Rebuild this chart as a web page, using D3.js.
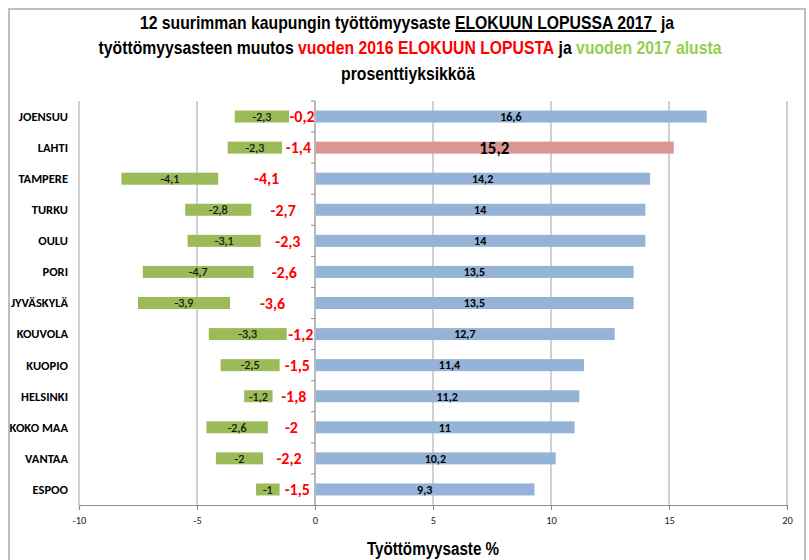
<!DOCTYPE html>
<html>
<head>
<meta charset="utf-8">
<script src="https://cdn.jsdelivr.net/npm/d3@7"></script>
<style>
  body { margin: 0; background: #fff; }
  text { font-family: "Carlito", "Liberation Sans", sans-serif; }
  .narrow { font-family: "Liberation Sans", Arial, sans-serif; }
</style>
</head>
<body>
<svg id="chart" width="809" height="560"></svg>
<script>
// kaupungit ylhäältä alas
const kaupungit = ["JOENSUU", "LAHTI", "TAMPERE", "TURKU", "OULU", "PORI", "JYVÄSKYLÄ",
    "KOUVOLA", "KUOPIO", "HELSINKI", "KOKO MAA", "VANTAA", "ESPOO"];
// työttömyysaste elokuun lopussa 2017
const tyottomyysaste = [16.6, 15.2, 14.2, 14, 14, 13.5, 13.5, 12.7, 11.4, 11.2, 11, 10.2, 9.3];
// muutos vuoden 2016 elokuun lopusta (punainen teksti)
const muutos2016 = [-0.2, -1.4, -4.1, -2.7, -2.3, -2.6, -3.6, -1.2, -1.5, -1.8, -2, -2.2, -1.5];
// näkymätön välipalkki, jonka jälkeen vihreä palkki alkaa
const valipalkki = [-1.1, -1.4, -4.1, -2.7, -2.3, -2.6, -3.6, -1.2, -1.5, -1.8, -2.0, -2.2, -1.5];
// muutos vuoden 2017 alusta (vihreä palkki)
const muutos2017 = [-2.3, -2.3, -4.1, -2.8, -3.1, -4.7, -3.9, -3.3, -2.5, -1.2, -2.6, -2, -1];
const xTicks = [-10, -5, 0, 5, 10, 15, 20];

const fmt = v => String(v).replace(".", ",");

const svg = d3.select("#chart");

// ulkokehys
svg.append("rect")
    .attr("x", 9).attr("y", 9)
    .attr("width", 796).attr("height", 560)
    .attr("fill", "none")
    .attr("stroke", "#bfbfbf")
    .attr("stroke-width", 2);

//----------------------------------------------------------------------------------
// otsikko (kapea fontti = Liberation Sans vaakasuunnassa puristettuna)

function narrowText(cx, cy, size, sx) {
    return svg.append("text")
        .attr("class", "narrow")
        .attr("transform", `translate(${cx},${cy}) scale(${sx},1)`)
        .attr("text-anchor", "middle")
        .attr("font-weight", "bold")
        .attr("font-size", size)
        .style("white-space", "pre");
}

let t1 = narrowText(407, 29, 19, 0.83);
t1.append("tspan").text("12 suurimman kaupungin työttömyysaste ");
t1.append("tspan").style("text-decoration", "underline").text("ELOKUUN LOPUSSA 2017 ");
t1.append("tspan").text(" ja");

let t2 = narrowText(410, 54, 19, 0.83);
t2.append("tspan").text("työttömyysasteen muutos ");
t2.append("tspan").attr("fill", "#ff0000").text("vuoden 2016 ELOKUUN LOPUSTA");
t2.append("tspan").text(" ja ");
t2.append("tspan").attr("fill", "#92d050").text("vuoden 2017 alusta");

narrowText(408, 80, 19, 0.83).text("prosenttiyksikköä");

//----------------------------------------------------------------------------------
// asteikot

const plotTop = 101, plotBottom = 505;
const x = d3.scaleLinear().domain([-10, 20]).range([79, 787]);
const y = d3.scaleBand().domain(kaupungit).range([plotTop, plotBottom]);
const barH = 12;

// pystyruudukko
svg.append("g")
    .selectAll("line")
    .data(xTicks.filter(d => d !== 0))
    .join("line")
    .attr("x1", d => x(d)).attr("x2", d => x(d))
    .attr("y1", plotTop).attr("y2", plotBottom)
    .attr("stroke", "#b3b3b3")
    .attr("stroke-width", 1.2);

// x-akseli
const xAxis = svg.append("g")
    .attr("transform", `translate(0,${plotBottom})`)
    .call(d3.axisBottom(x).tickValues(xTicks).tickSize(5).tickPadding(7).tickFormat(d => d));
xAxis.select(".domain").attr("stroke", "#8c8c8c").attr("stroke-width", 1.2);
xAxis.selectAll(".tick line").attr("stroke", "#8c8c8c");
xAxis.selectAll(".tick text")
    .attr("font-size", 10.5)
    .attr("fill", "#222")
    .style("font-family", "Carlito, sans-serif");

narrowText(x(5), 555, 19, 0.8).text("Työttömyysaste %");

// y-akseli nollassa, väliviivat kategorioiden välissä
const yAxisG = svg.append("g");
yAxisG.append("line")
    .attr("x1", x(0)).attr("x2", x(0))
    .attr("y1", plotTop).attr("y2", plotBottom)
    .attr("stroke", "#8c8c8c").attr("stroke-width", 1.2);
yAxisG.selectAll(".ytick")
    .data(kaupungit)
    .join("line")
    .attr("class", "ytick")
    .attr("x1", x(0) - 4).attr("x2", x(0))
    .attr("y1", d => y(d)).attr("y2", d => y(d))
    .attr("stroke", "#8c8c8c");

// kaupunkien nimet
svg.append("g")
    .selectAll("text")
    .data(kaupungit)
    .join("text")
    .attr("x", 68)
    .attr("y", d => y(d) + y.bandwidth() / 2)
    .attr("dy", "0.35em")
    .attr("text-anchor", "end")
    .attr("font-weight", "bold")
    .attr("font-size", 12.5)
    .text(d => d);

//----------------------------------------------------------------------------------
// palkit

const rows = kaupungit.map((k, i) => ({
    kaupunki: k,
    aste: tyottomyysaste[i],
    m2016: muutos2016[i],
    vali: valipalkki[i],
    m2017: muutos2017[i]
}));

const cy = d => y(d.kaupunki) + y.bandwidth() / 2;

// työttömyysaste
svg.append("g")
    .selectAll("rect")
    .data(rows)
    .join("rect")
    .attr("x", x(0) + 1)
    .attr("y", d => cy(d) - barH / 2)
    .attr("width", d => x(d.aste) - x(0) - 1)
    .attr("height", barH)
    .attr("fill", d => d.kaupunki === "LAHTI" ? "#d99694" : "#95b3d7");

svg.append("g")
    .selectAll("text")
    .data(rows)
    .join("text")
    .attr("x", d => x(d.aste / 2))
    .attr("y", cy)
    .attr("dy", "0.36em")
    .attr("text-anchor", "middle")
    .attr("font-weight", "bold")
    .attr("font-size", d => d.kaupunki === "LAHTI" ? 17 : 12)
    .text(d => fmt(d.aste));

// muutos vuoden 2017 alusta, pinottuna välipalkin jatkoksi
svg.append("g")
    .selectAll("rect")
    .data(rows)
    .join("rect")
    .attr("x", d => x(d.vali + d.m2017))
    .attr("y", d => cy(d) - barH / 2)
    .attr("width", d => x(d.vali) - x(d.vali + d.m2017))
    .attr("height", barH)
    .attr("fill", "#9bbb59");

svg.append("g")
    .selectAll("text")
    .data(rows)
    .join("text")
    .attr("x", d => x(d.vali + d.m2017 / 2))
    .attr("y", cy)
    .attr("dy", "0.36em")
    .attr("text-anchor", "middle")
    .attr("font-size", 12)
    .attr("fill", "#111")
    .attr("stroke", "#111")
    .attr("stroke-width", 0.2)
    .text(d => fmt(d.m2017));

// muutos vuoden 2016 elokuusta, näkymättömän välipalkin keskelle
svg.append("g")
    .selectAll("text")
    .data(rows)
    .join("text")
    .attr("x", d => x(d.vali / 2))
    .attr("y", cy)
    .attr("dy", "0.36em")
    .attr("text-anchor", "middle")
    .attr("font-weight", "bold")
    .attr("font-size", 16)
    .attr("fill", "#ff0000")
    .text(d => fmt(d.m2016));
</script>
</body>
</html>
